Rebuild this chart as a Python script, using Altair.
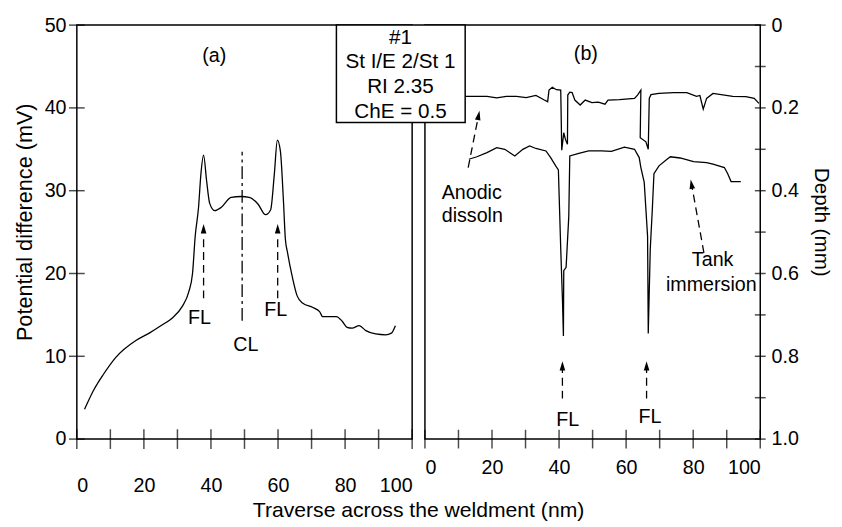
import altair as alt
import pandas as pd

FONT = "Liberation Sans"

# ---------------- Panel (a): potential difference ----------------
a_x = [2.3, 5.0, 7.9, 11.7, 17.6, 21.6, 25.5, 28.4, 31.4, 33.4, 34.5, 35.3, 36.3, 37.0,
       37.8, 38.7, 39.6, 41.1, 43.1, 46.0, 49.0, 51.4, 54.0, 56.3, 57.8, 58.9, 59.8,
       60.7, 61.6, 62.2, 62.8, 64.2, 65.7, 67.4, 70.4, 72.4, 73.3, 77.4, 79.2, 80.6,
       82.1, 84.2, 86.2, 89.1, 92.1, 93.8, 95.0]
a_y = [3.6, 5.9, 7.8, 9.9, 11.9, 12.8, 13.8, 14.6, 16.0, 17.8, 20.0, 24.5, 28.0, 32.0,
       34.3, 31.2, 28.5, 27.6, 28.0, 29.2, 29.3, 29.2, 28.4, 27.1, 27.7, 32.0, 36.1,
       34.8, 28.9, 24.1, 22.6, 19.7, 17.3, 16.4, 15.9, 15.4, 14.8, 14.8, 14.2, 13.5,
       13.4, 13.7, 13.1, 12.7, 12.6, 12.8, 13.7]

# ---------------- Panel (b): depth profiles ----------------
anodic_x = [12.1, 18.5, 21.4, 24.3, 27.3, 30.2, 33.1, 35.6, 36.6, 37.0, 38.0, 39.2, 40.5,
            40.8, 41.4, 41.9, 42.5, 42.6, 43.2, 43.9, 44.7, 46.3, 47.8, 49.8, 51.7, 53.7,
            54.6, 58.0, 62.5, 63.4, 64.4, 64.2, 65.9, 66.6, 66.9, 67.4, 69.8, 74.2, 78.1,
            81.0, 82.0, 83.0, 84.0, 85.9, 91.8, 95.7, 98.2, 99.6]
anodic_d = [0.172, 0.172, 0.176, 0.172, 0.172, 0.175, 0.170, 0.181, 0.185, 0.157, 0.150,
            0.156, 0.157, 0.302, 0.260, 0.276, 0.288, 0.169, 0.162, 0.163, 0.181, 0.193,
            0.181, 0.187, 0.186, 0.191, 0.181, 0.180, 0.177, 0.169, 0.157, 0.272, 0.282,
            0.300, 0.177, 0.168, 0.165, 0.163, 0.163, 0.172, 0.170, 0.203, 0.177, 0.165,
            0.172, 0.173, 0.177, 0.189]

tank_x = [13.1, 15.5, 18.5, 21.4, 23.8, 26.8, 29.2, 31.2, 33.1, 36.1, 37.5, 39.0, 39.8,
          40.5, 41.0, 41.3, 41.4, 42.1, 42.9, 43.2, 45.9, 48.8, 52.7, 55.6, 59.5, 62.5,
          63.9, 64.4, 65.4, 66.4, 66.6, 67.2, 67.8, 68.3, 69.8, 72.2, 73.2, 76.1, 80.1,
          84.0, 85.9, 89.3, 90.3, 91.3, 94.2]
tank_d = [0.324, 0.318, 0.308, 0.296, 0.300, 0.316, 0.300, 0.292, 0.298, 0.304, 0.320,
          0.340, 0.350, 0.541, 0.660, 0.751, 0.593, 0.585, 0.462, 0.316, 0.310, 0.304,
          0.304, 0.305, 0.295, 0.300, 0.320, 0.344, 0.380, 0.510, 0.745, 0.541, 0.447,
          0.359, 0.340, 0.324, 0.318, 0.321, 0.330, 0.332, 0.336, 0.344, 0.359, 0.378,
          0.378]

x_ticks = [0, 10, 20, 30, 40, 50, 60, 70, 80, 90, 100]
x_labels = [0, 20, 40, 60, 80, 100]
a_ticks = [0, 10, 20, 30, 40, 50]
b_ticks = [0.0, 0.1, 0.2, 0.3, 0.4, 0.5, 0.6, 0.7, 0.8, 0.9, 1.0]
b_labels = [0.0, 0.2, 0.4, 0.6, 0.8, 1.0]

box_lines = ["#1", "St I/E 2/St 1", "RI 2.35", "ChE = 0.5"]
box_line_d = [0.031, 0.090, 0.150, 0.209]

W, H = 341, 421
LW = 1.5
ARROW = "M0,-1L0.6,1L-0.6,1Z"

xa = alt.Scale(domain=[0, 100], nice=False, zero=False)
ya = alt.Scale(domain=[0, 50], nice=False)
yb = alt.Scale(domain=[0, 1], nice=False, reverse=True)

# ---------- left chart ----------
dfa = pd.DataFrame({"x": a_x, "y": a_y, "o": range(len(a_x))})
line_a = alt.Chart(dfa).mark_line(color="black", strokeWidth=1.3, interpolate="monotone").encode(
    x=alt.X("x:Q", scale=xa, axis=alt.Axis(values=x_labels, labelPadding=37,
            title="Traverse across the weldment (nm)", titleX=347, titleY=73,
            titleAlign="center", titleBaseline="middle", titleAngle=0, titleFontSize=21.5)),
    y=alt.Y("y:Q", scale=ya, axis=alt.Axis(values=a_ticks, labelPadding=11,
            title="Potential difference (mV)", titleX=-53, titleY=200,
            titleAlign="center", titleBaseline="middle", titleAngle=-90)),
    order="o:Q",
)
xt_a = alt.Chart(pd.DataFrame({"x": x_ticks})).mark_tick(
    orient="vertical", size=20, thickness=LW, color="black").encode(
    x="x:Q", y=alt.datum(0))
yt_a = alt.Chart(pd.DataFrame({"y": a_ticks})).mark_tick(
    orient="horizontal", size=16, thickness=LW, color="black").encode(
    y="y:Q", x=alt.datum(0))

cl = pd.DataFrame({"x": [49.3], "y": [14.3], "y2": [34.7]})
cl_rule = alt.Chart(cl).mark_rule(color="black", strokeWidth=1.3, strokeDash=[13, 4, 3, 4]).encode(
    x="x:Q", y="y:Q", y2="y2:Q")

fla = pd.DataFrame({"x": [37.8, 59.9], "y": [17.0, 17.0], "y2": [24.6, 24.6],
                    "hy": [25.4, 25.4]})
fla_rule = alt.Chart(fla).mark_rule(color="black", strokeWidth=1.3, strokeDash=[8, 5]).encode(
    x="x:Q", y="y:Q", y2="y2:Q")
fla_head = alt.Chart(fla).mark_point(shape=ARROW, filled=True, color="black", size=90, opacity=1).encode(
    x="x:Q", y=alt.Y("hy:Q"))

ta = pd.DataFrame({"x": [41.0, 36.6, 59.3, 50.4], "y": [46.3, 14.6, 15.6, 11.3],
                   "t": ["(a)", "FL", "FL", "CL"]})
text_a = alt.Chart(ta).mark_text(fontSize=20, font=FONT, color="black", baseline="middle").encode(
    x="x:Q", y="y:Q", text="t:N")

left = alt.layer(line_a, xt_a, yt_a, cl_rule, fla_rule, fla_head, text_a).properties(width=W, height=H)

# ---------- right chart ----------
df1 = pd.DataFrame({"x": anodic_x, "d": anodic_d, "o": range(len(anodic_x))})
df2 = pd.DataFrame({"x": tank_x, "d": tank_d, "o": range(len(tank_x))})
line_b1 = alt.Chart(df1).mark_line(color="black", strokeWidth=1.3).encode(
    x=alt.X("x:Q", scale=xa, axis=alt.Axis(values=x_labels, labelPadding=19, title="")),
    y=alt.Y("d:Q", scale=yb, axis=alt.Axis(orient="right", values=b_labels, labelPadding=11,
            labelExpr="datum.value == 0 ? '0' : format(datum.value, '.1f')",
            title="Depth (mm)", titleX=61, titleY=200, titleAlign="center",
            titleBaseline="middle", titleAngle=90, titleFontSize=21)),
    order="o:Q",
)
line_b2 = alt.Chart(df2).mark_line(color="black", strokeWidth=1.3).encode(
    x="x:Q", y="d:Q", order="o:Q")

xt_b = alt.Chart(pd.DataFrame({"x": x_ticks})).mark_tick(
    orient="vertical", size=19, thickness=LW, color="black").encode(
    x="x:Q", y=alt.datum(1.0))
yt_b = alt.Chart(pd.DataFrame({"d": b_ticks})).mark_tick(
    orient="horizontal", size=11, thickness=LW, color="black").encode(
    y="d:Q", x=alt.datum(100))

flb = pd.DataFrame({"x": [41.0, 66.1], "d": [0.902, 0.902], "d2": [0.830, 0.830],
                    "hd": [0.823, 0.823]})
flb_rule = alt.Chart(flb).mark_rule(color="black", strokeWidth=1.3, strokeDash=[8, 5]).encode(
    x="x:Q", y="d:Q", y2="d2:Q")
flb_head = alt.Chart(flb).mark_point(shape=ARROW, filled=True, color="black", size=90, opacity=1).encode(
    x="x:Q", y="hd:Q")

diag = pd.DataFrame({"x": [12.9, 83.2], "d": [0.344, 0.550], "x2": [16.0, 79.5],
                     "d2": [0.218, 0.384], "ang": [11, 350]})
diag_rule = alt.Chart(diag).mark_rule(color="black", strokeWidth=1.3, strokeDash=[8, 5]).encode(
    x="x:Q", y="d:Q", x2="x2:Q", y2="d2:Q")
diag_head = alt.Chart(diag).mark_point(shape=ARROW, filled=True, color="black", size=90, opacity=1).encode(
    x="x2:Q", y="d2:Q", angle=alt.Angle("ang:Q", scale=None))

tb = pd.DataFrame({"x": [48.0, 42.6, 67.1, 85.8, 85.4], "d": [0.070, 0.955, 0.948, 0.568, 0.628],
                   "t": ["(b)", "FL", "FL", "Tank", "immersion"]})
text_b = alt.Chart(tb).mark_text(fontSize=20, font=FONT, color="black", baseline="middle").encode(
    x="x:Q", y="d:Q", text="t:N")
tl = pd.DataFrame({"x": [5.0, 5.0], "d": [0.405, 0.462], "t": ["Anodic", "dissoln"]})
text_l = alt.Chart(tl).mark_text(fontSize=20, font=FONT, color="black", baseline="middle", align="left").encode(
    x="x:Q", y="d:Q", text="t:N")

box = pd.DataFrame({"x": [-26.4], "x2": [12.0], "d": [0.0], "d2": [0.235]})
box_rect = alt.Chart(box).mark_rect(fill="white", stroke="black", strokeWidth=LW).encode(
    x="x:Q", x2="x2:Q", y="d:Q", y2="d2:Q")
bt = pd.DataFrame({"x": [-7.3] * 4, "d": box_line_d, "t": box_lines})
box_text = alt.Chart(bt).mark_text(fontSize=21, font=FONT, color="black", baseline="middle").encode(
    x="x:Q", y="d:Q", text="t:N")

right = alt.layer(line_b1, line_b2, xt_b, yt_b, flb_rule, flb_head, diag_rule, diag_head,
                  text_b, text_l, box_rect, box_text).properties(width=W, height=H)

chart = alt.hconcat(left, right, spacing=13, bounds="flush").properties(
    padding={"left": 5, "top": 2, "right": 2, "bottom": 0}
).configure_view(stroke="black", strokeWidth=LW).configure_axis(
    domain=False, ticks=False, grid=False, labelFont=FONT, labelFontSize=20,
    titleFont=FONT, titleFontSize=22, titleFontWeight="normal",
    labelColor="black", titleColor="black"
)

chart.save("out.html", embed_options={"renderer": "svg", "actions": False})
